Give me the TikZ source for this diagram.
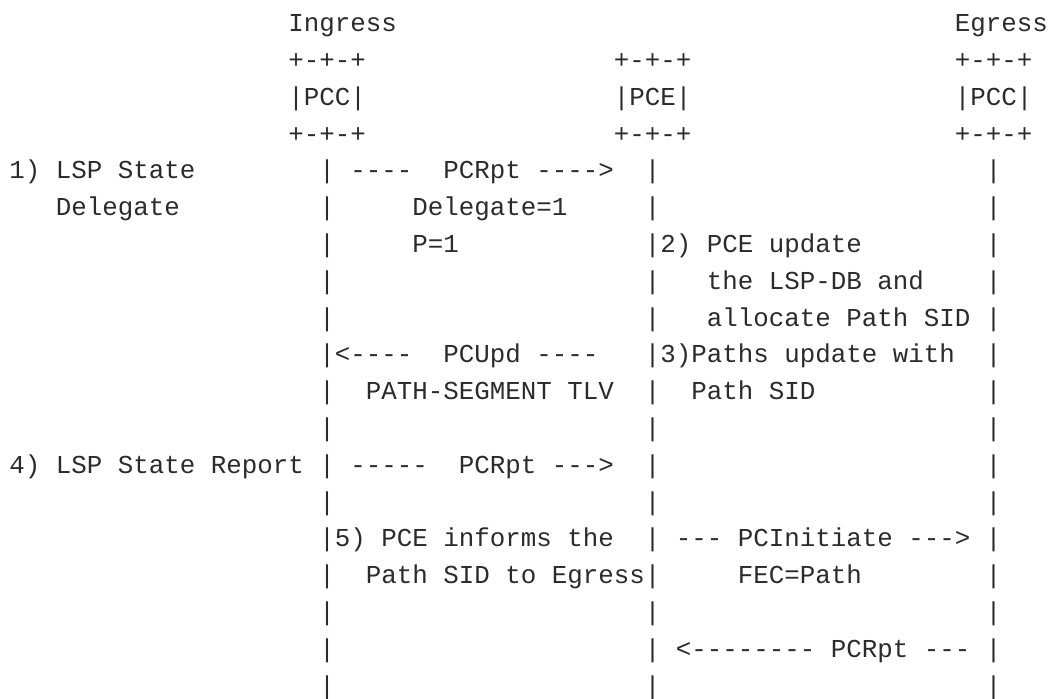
\documentclass[tikz,border=0pt]{standalone}
\usepackage{fontspec}
\setmonofont{Liberation Mono}
\usepackage{tikz}
\definecolor{testo}{HTML}{2B2B2B}

\begin{document}
\begin{tikzpicture}[x=15.5pt, y=-36.8pt]
    % Definizione stili
    \tikzset{
        ascii/.style={
            anchor=base west,
            inner sep=0pt,
            outer sep=0pt,
            text=testo,
            font=\ttfamily\fontsize{25.83}{30}\selectfont
        },
        vita/.style={ascii}
    }

    % Area del disegno
    \useasboundingbox (-9.3pt,31.7pt) rectangle (1049.7pt,-666.3pt);

    % Nodi di testa
    \node[ascii] at (18,0) (ingress) {Ingress};
    \node[ascii] at (61,0) (egress) {Egress};
    \node[ascii] at (18,1) (pcc1top) {+-+-+};
    \node[ascii] at (39,1) (pcetop) {+-+-+};
    \node[ascii] at (61,1) (pcc2top) {+-+-+};
    \node[ascii] at (18,2) (pcc1) {|PCC|};
    \node[ascii] at (39,2) (pce) {|PCE|};
    \node[ascii] at (61,2) (pcc2) {|PCC|};
    \node[ascii] at (18,3) (pcc1bot) {+-+-+};
    \node[ascii] at (39,3) (pcebot) {+-+-+};
    \node[ascii] at (61,3) (pcc2bot) {+-+-+};

    % Linee di vita
    \foreach \r in {4,...,18} {
        \node[vita] at (20,\r) (vin\r) {|};
        \node[vita] at (41,\r) (vpce\r) {|};
        \node[vita] at (63,\r) (veg\r) {|};
    }

    % Passi e messaggi
    \node[ascii] at (0,4) (step1) {1) LSP State};
    \node[ascii] at (3,5) (step1b) {Delegate};
    \node[ascii] at (22,4) (rpt1) {----~~PCRpt~---->};
    \node[ascii] at (26,5) (deleg) {Delegate=1};
    \node[ascii] at (26,6) (pflag) {P=1};

    \node[ascii] at (42,6) (step2) {2) PCE update};
    \node[ascii] at (45,7) (step2b) {the LSP-DB and};
    \node[ascii] at (45,8) (step2c) {allocate Path SID};

    \node[ascii] at (21,9) (upd) {<----~~PCUpd ----};
    \node[ascii] at (23,10) (tlv) {PATH-SEGMENT TLV};
    \node[ascii] at (42,9) (step3) {3)Paths update with};
    \node[ascii] at (44,10) (step3b) {Path SID};

    \node[ascii] at (0,12) (step4) {4) LSP State Report};
    \node[ascii] at (22,12) (rpt2) {-----~~PCRpt --->};

    \node[ascii] at (21,14) (step5) {5) PCE informs the};
    \node[ascii] at (23,15) (step5b) {Path SID to Egress};
    \node[ascii] at (43,14) (init) {--- PCInitiate --->};
    \node[ascii] at (47,15) (fec) {FEC=Path};

    \node[ascii] at (43,17) (rpt3) {<-------- PCRpt ---};

\end{tikzpicture}
\end{document}
